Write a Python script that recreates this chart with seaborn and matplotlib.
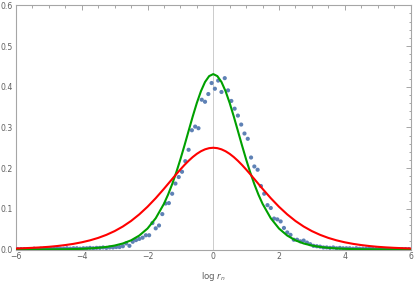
import numpy as np
import pandas as pd
import matplotlib
matplotlib.use("Agg")
import matplotlib.pyplot as plt
import seaborn as sns
from matplotlib.ticker import MultipleLocator

# ---- data ----
curve_x = [-6.0, -5.75, -5.5, -5.25, -5.0, -4.75, -4.5, -4.25, -4.0, -3.75, -3.5, -3.25,
           -3.0, -2.75, -2.5, -2.25, -2.0, -1.75, -1.5, -1.375, -1.25, -1.125, -1.0,
           -0.875, -0.75, -0.625, -0.5, -0.375, -0.25, -0.125, 0.0,
           0.125, 0.25, 0.375, 0.5, 0.625, 0.75, 0.875, 1.0, 1.125, 1.25, 1.375, 1.5,
           1.75, 2.0, 2.25, 2.5, 2.75, 3.0, 3.25, 3.5, 3.75, 4.0, 4.25, 4.5, 4.75,
           5.0, 5.25, 5.5, 5.75, 6.0]

green_y = [0.0001, 0.0001, 0.0001, 0.0002, 0.0003, 0.0005, 0.0007, 0.0011, 0.0017, 0.0027,
           0.0041, 0.0063, 0.0097, 0.0148, 0.0225, 0.0343, 0.0515, 0.0768, 0.1123, 0.1347,
           0.1605, 0.1894, 0.2214, 0.2557, 0.2913, 0.3267, 0.3599, 0.3889, 0.4116, 0.4260,
           0.4310,
           0.4260, 0.4116, 0.3889, 0.3599, 0.3267, 0.2913, 0.2557, 0.2214, 0.1894, 0.1605,
           0.1347, 0.1123, 0.0768, 0.0515, 0.0343, 0.0225, 0.0148, 0.0097, 0.0063, 0.0041,
           0.0027, 0.0017, 0.0011, 0.0007, 0.0005, 0.0003, 0.0002, 0.0001, 0.0001, 0.0001]

red_y = [0.0025, 0.0032, 0.0041, 0.0052, 0.0066, 0.0085, 0.0109, 0.0139, 0.0177, 0.0225,
         0.0285, 0.0360, 0.0452, 0.0565, 0.0701, 0.0863, 0.1050, 0.1261, 0.1491, 0.1611,
         0.1731, 0.1850, 0.1966, 0.2077, 0.2179, 0.2271, 0.2350, 0.2414, 0.2461, 0.2490,
         0.2500,
         0.2490, 0.2461, 0.2414, 0.2350, 0.2271, 0.2179, 0.2077, 0.1966, 0.1850, 0.1731,
         0.1611, 0.1491, 0.1261, 0.1050, 0.0863, 0.0701, 0.0565, 0.0452, 0.0360, 0.0285,
         0.0225, 0.0177, 0.0139, 0.0109, 0.0085, 0.0066, 0.0052, 0.0041, 0.0032, 0.0025]

dot_x = np.round(np.arange(-5.95, 6.0, 0.1), 2)
dot_y = [0.001, 0.001, 0.001, 0.001, 0.001, 0.002, 0.001, 0.002, 0.002, 0.002,
         0.002, 0.002, 0.003, 0.002, 0.002, 0.003, 0.002, 0.003, 0.003, 0.002,
         0.003, 0.003, 0.004, 0.003, 0.004, 0.004, 0.005, 0.004, 0.005, 0.005,
         0.006, 0.006, 0.008, 0.015, 0.009, 0.019, 0.023, 0.026, 0.029, 0.035,
         0.035, 0.065, 0.052, 0.059, 0.087, 0.113, 0.114, 0.137, 0.162, 0.178,
         0.191, 0.217, 0.245, 0.293, 0.302, 0.298, 0.368, 0.363, 0.382, 0.409,
         0.395, 0.415, 0.387, 0.421, 0.391, 0.365, 0.346, 0.329, 0.307, 0.285,
         0.272, 0.226, 0.204, 0.196, 0.156, 0.137, 0.109, 0.102, 0.076, 0.074,
         0.069, 0.053, 0.042, 0.036, 0.024, 0.024, 0.020, 0.022, 0.017, 0.013,
         0.009, 0.008, 0.007, 0.005, 0.005, 0.004, 0.005, 0.003, 0.004, 0.003,
         0.003, 0.003, 0.002, 0.003, 0.002, 0.002, 0.002, 0.002, 0.002, 0.001,
         0.002, 0.001, 0.001, 0.001, 0.001, 0.001, 0.001, 0.001, 0.001, 0.001]

x_major = [-6, -4, -2, 0, 2, 4, 6]
y_major = [0.0, 0.1, 0.2, 0.3, 0.4, 0.5, 0.6]
x_label = r"log $r_n$"

# ---- plotting ----
sns.set_theme(style="white")
plt.rcParams['font.family'] = ['DejaVu Sans']

frame_c = "#a6a6a6"
text_c = "#5f5f5f"

fig = plt.figure(figsize=(4.15, 2.83), dpi=100)
ax = fig.add_axes([16 / 415, 1 - 249.5 / 283, (410.5 - 16) / 415, (249.5 - 5.3) / 283])

ax.axvline(0, color="#cccccc", lw=0.7, zorder=1)

dots = pd.DataFrame({"x": dot_x, "y": dot_y})
curves = pd.DataFrame({"x": curve_x, "green": green_y, "red": red_y})

sns.scatterplot(data=dots, x="x", y="y", ax=ax, color="#5e81b5", s=9,
                edgecolor="none", linewidth=0, zorder=2)
sns.lineplot(data=curves, x="x", y="green", ax=ax, color="#00a000", lw=1.5,
             sort=False, zorder=3)
sns.lineplot(data=curves, x="x", y="red", ax=ax, color="#ff0000", lw=1.5,
             sort=False, zorder=4)

ax.set_xlim(-6, 6)
ax.set_ylim(0, 0.6)
ax.set_xticks(x_major)
ax.set_xticklabels([f"{v:d}".replace("-", "\u2212") for v in x_major])
ax.set_yticks(y_major)
ax.set_yticklabels([f"{v:.1f}" for v in y_major])
ax.xaxis.set_minor_locator(MultipleLocator(0.5))
ax.yaxis.set_minor_locator(MultipleLocator(0.02))

ax.tick_params(which="both", direction="in", top=True, right=True,
               color=frame_c, width=0.7, labelsize=5.6, labelcolor=text_c)
ax.tick_params(which="major", length=3.5, pad=2)
ax.tick_params(which="minor", length=1.8)

for sp in ax.spines.values():
    sp.set_color(frame_c)
    sp.set_linewidth(0.8)
    sp.set_visible(True)

ax.set_xlabel(x_label, fontsize=6.2, color=text_c, labelpad=6)
ax.set_ylabel("")

fig.savefig("out.png", dpi=100)
